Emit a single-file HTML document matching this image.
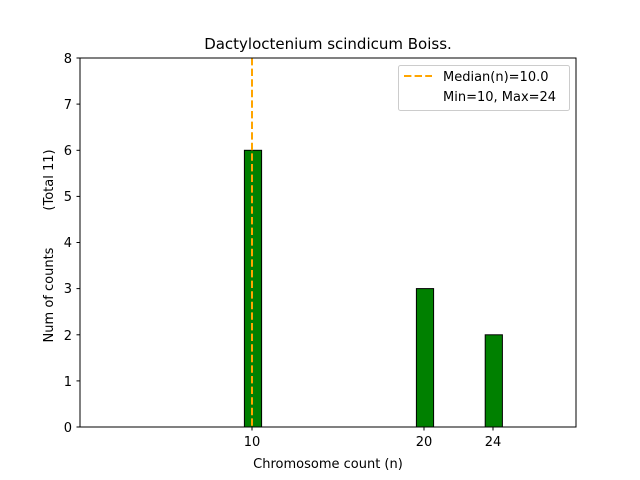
<!DOCTYPE html>
<html><head><style>body{margin:0;background:#fff}svg{display:block}text{font-family:"DejaVu Sans","Liberation Sans",sans-serif;fill:#000}</style></head><body>
<svg width="640" height="480" xmlns="http://www.w3.org/2000/svg">
<rect width="640" height="480" fill="#fff"/>
<g stroke="#000" stroke-width="1">
<rect x="244.4" y="150.3" width="17.2" height="276.7" fill="#008000"/>
<rect x="416.4" y="288.6" width="17.2" height="138.4" fill="#008000"/>
<rect x="485.2" y="334.8" width="17.2" height="92.2" fill="#008000"/>
<line x1="80" y1="427" x2="553" y2="427"/>
</g>
<line x1="252" y1="58" x2="252" y2="427" stroke="#ffa500" stroke-width="2" stroke-dasharray="7.4,3.2"/>
<rect x="80" y="58" width="496" height="369" fill="none" stroke="#000" stroke-width="1"/>
<g stroke="#000">
<line x1="80" y1="427" x2="76.5" y2="427"/><line x1="80" y1="380.9" x2="76.5" y2="380.9"/><line x1="80" y1="334.8" x2="76.5" y2="334.8"/><line x1="80" y1="288.6" x2="76.5" y2="288.6"/><line x1="80" y1="242.5" x2="76.5" y2="242.5"/><line x1="80" y1="196.4" x2="76.5" y2="196.4"/><line x1="80" y1="150.3" x2="76.5" y2="150.3"/><line x1="80" y1="104.1" x2="76.5" y2="104.1"/><line x1="80" y1="58" x2="76.5" y2="58"/>
<line x1="252" y1="427" x2="252" y2="430.5"/><line x1="424" y1="427" x2="424" y2="430.5"/><line x1="493" y1="427" x2="493" y2="430.5"/>
</g>
<g font-size="13" text-anchor="end">
<text x="72" y="432">0</text><text x="72" y="386">1</text><text x="72" y="340">2</text><text x="72" y="293">3</text><text x="72" y="247">4</text><text x="72" y="201">5</text><text x="72" y="155">6</text><text x="72" y="109">7</text><text x="72" y="63">8</text>
</g>
<g font-size="13" text-anchor="middle">
<text x="252" y="446">10</text><text x="424" y="446">20</text><text x="493" y="446">24</text>
<text x="328" y="468">Chromosome count (n)</text>
<text x="328" y="49" font-size="15">Dactyloctenium scindicum Boiss.</text>
<text transform="translate(53,295) rotate(-90)">Num of counts</text>
<text transform="translate(53,180) rotate(-90)">(Total 11)</text>
</g>
<rect x="398.5" y="65.5" width="171" height="45" rx="2" fill="#fff" stroke="#ccc"/>
<line x1="404" y1="76" x2="432" y2="76" stroke="#ffa500" stroke-width="2" stroke-dasharray="7.4,3.2"/>
<text x="443" y="81" font-size="13">Median(n)=10.0</text>
<text x="443" y="101" font-size="13">Min=10, Max=24</text>
</svg>
</body></html>
